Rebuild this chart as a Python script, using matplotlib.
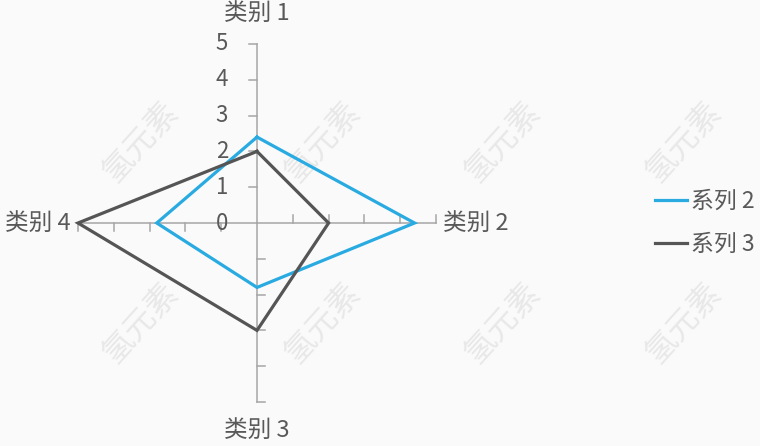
import numpy as np
import matplotlib.pyplot as plt

plt.rcParams['font.family'] = ['Noto Sans CJK SC', 'DejaVu Sans']

# data
categories = ['类别 1', '类别 2', '类别 3', '类别 4']
series_names = ['系列 2', '系列 3']
series2 = [2.4, 4.4, 1.8, 2.8]
series3 = [2, 2, 3, 5]
tick_values = [0, 1, 2, 3, 4, 5]
colors = ['#29abe2', '#555555']

text_col = '#595959'
axis_col = '#a6a6a6'
bg = '#fafafa'

rmax = 5
u = rmax / 179.0  # data units per pixel

fig = plt.figure(figsize=(7.6, 4.46), dpi=100, facecolor=bg)
ax = fig.add_axes([0, 0, 1, 1])
ax.set_facecolor(bg)
ax.set_xlim(-257 * u, (760 - 257) * u)
ax.set_ylim(-223 * u, 223 * u)
ax.axis('off')

# watermark (under the lines)
for wx in [140, 322, 502, 683]:
    for wy in [142, 323]:
        ax.text(wx / 760, 1 - wy / 446, '氢元素', rotation=48, fontsize=23,
                color='#e8e8e8', ha='center', va='center', zorder=0.5,
                transform=fig.transFigure)

angles = np.pi / 2 - np.arange(len(categories)) * np.pi / 2
dirs = np.c_[np.cos(angles), np.sin(angles)]
perp = np.c_[-dirs[:, 1], dirs[:, 0]]  # ticks point counter-clockwise

# radial axes with tick marks
tl = 8 * u
for d, p in zip(dirs, perp):
    ax.plot([0, d[0] * rmax], [0, d[1] * rmax], color=axis_col, lw=1.1, zorder=1)
    for t in tick_values[1:]:
        x0, y0 = d * t
        ax.plot([x0, x0 + p[0] * tl], [y0, y0 + p[1] * tl], color=axis_col, lw=1.1, zorder=1)

# value labels on the top axis
for t in tick_values:
    ax.text(-29 * u, t, str(t), ha='right', va='center', fontsize=16, color=text_col, zorder=2)

# category labels
ax.text(0, rmax + 31 * u, categories[0], ha='center', va='center', fontsize=17, color=text_col)
ax.text(rmax + 7 * u, 0, categories[1], ha='left', va='center', fontsize=17, color=text_col)
ax.text(0, -rmax - 28 * u, categories[2], ha='center', va='center', fontsize=17, color=text_col)
ax.text(-rmax - 7 * u, 0, categories[3], ha='right', va='center', fontsize=17, color=text_col)

handles = []
for vals, name, c in zip([series2, series3], series_names, colors):
    v = np.array(vals + vals[:1], dtype=float)
    d = np.vstack([dirs, dirs[:1]])
    h, = ax.plot(v * d[:, 0], v * d[:, 1], color=c, lw=2.3, label=name,
                 solid_joinstyle='miter', zorder=3)
    handles.append(h)

leg = ax.legend(handles=handles, loc='center left', bbox_to_anchor=(655 / 760, 1 - 223 / 446),
                frameon=False, fontsize=16.5, handlelength=1.4, handletextpad=0.15,
                labelspacing=0.85, borderaxespad=0, borderpad=0)
for t in leg.get_texts():
    t.set_color(text_col)

fig.savefig('out.png', dpi=100, facecolor=bg)
